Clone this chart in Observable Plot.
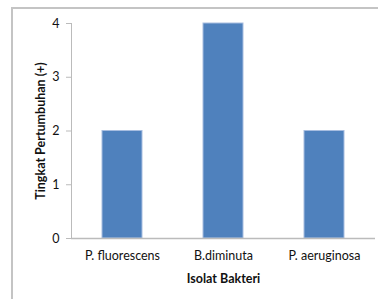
<!DOCTYPE html>
<html>
<head>
<meta charset="utf-8">
<script src="https://cdn.jsdelivr.net/npm/d3@7"></script>
<script src="https://cdn.jsdelivr.net/npm/@observablehq/plot@0.6"></script>
<style>
  html, body { margin: 0; padding: 0; background: #fff; }
  #wrap { position: relative; width: 378px; height: 299px; overflow: hidden; }
  #frame { position: absolute; left: 11px; top: 7px; width: 380px; height: 300px;
           border: 2px solid #c4c4c4; box-sizing: border-box; }
  #chart { position: absolute; left: 0; top: 0; }
</style>
</head>
<body>
<div id="wrap"><div id="frame"></div><div id="chart"></div></div>
<script>
const categories = ["P. fluorescens", "B.diminuta", "P. aeruginosa"];
const values = [2, 4, 2];
const yTicks = [0, 1, 2, 3, 4];

const data = categories.map((c, i) => ({ cat: c, v: values[i] }));

const plot = Plot.plot({
  width: 378,
  height: 299,
  marginLeft: 71,
  marginRight: 3,
  marginTop: 23,
  marginBottom: 61,
  style: { fontFamily: "Lato, 'Open Sans', sans-serif", fontSize: "12.5px", color: "#111", background: "transparent" },
  x: { domain: categories, paddingInner: 0.6, paddingOuter: 0.3, label: null },
  y: { domain: [0, 4], label: null },
  marks: [
    Plot.barY(data, { x: "cat", y: "v", fill: "#4f81bd", stroke: "#a7bde0", strokeWidth: 1 }),
    Plot.frame({ anchor: "left", stroke: "#bbb", strokeWidth: 1 }),
    Plot.ruleY([0], { stroke: "#bbb", strokeWidth: 1.5 }),
    Plot.axisY({ ticks: yTicks, tickFormat: d3.format("d"), tickSize: 5, tickPadding: 7, stroke: "#bbb", fill: "#111", label: null }),
    Plot.axisX({ tickSize: 0, tickPadding: 13, fill: "#111", label: null }),
    Plot.text(["Isolat Bakteri"], { frameAnchor: "bottom", dy: 44, fontWeight: "bold", fill: "#111" }),
    Plot.text(["Tingkat Pertumbuhan (+)"], { frameAnchor: "left", textAnchor: "middle", dx: -31, rotate: -90, fontWeight: "bold", fill: "#111" })
  ]
});
document.getElementById("chart").appendChild(plot);
</script>
</body>
</html>
